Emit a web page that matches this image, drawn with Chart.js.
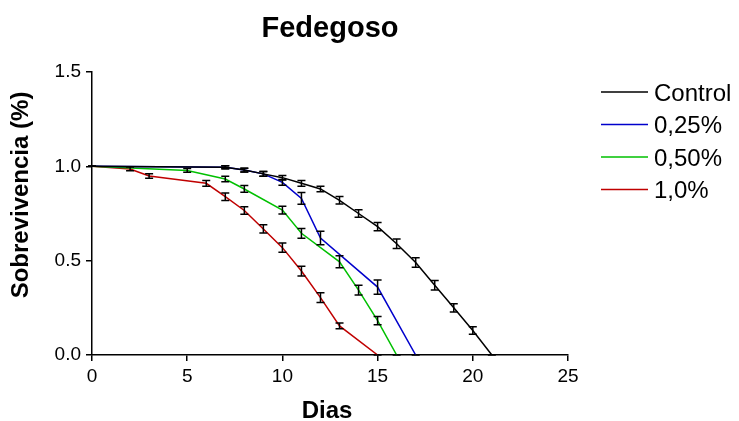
<!DOCTYPE html>
<html>
<head>
<meta charset="utf-8">
<script src="https://cdn.jsdelivr.net/npm/chart.js@4.4.0/dist/chart.umd.min.js"></script>
<style>
  body { margin: 0; background: #fff; }
  canvas { display: block; }
</style>
</head>
<body>
<canvas id="chart" width="739" height="421"></canvas>
<script>
const seriesNames = ['Control', '0,25%', '0,50%', '1,0%'];
const seriesColors = ['#000000', '#0000cc', '#00c000', '#c00000'];

const controlDays = [0, 7, 8, 9, 10, 11, 12, 13, 14, 15, 16, 17, 18, 19, 20, 21];
const controlValues = [1.0, 0.995, 0.98, 0.96, 0.94, 0.91, 0.88, 0.82, 0.75, 0.68, 0.59, 0.49, 0.37, 0.25, 0.13, 0];
const controlErrors = [0, 0.008, 0.01, 0.012, 0.012, 0.015, 0.015, 0.02, 0.02, 0.022, 0.025, 0.025, 0.025, 0.022, 0.02, 0];

const lowDays = [0, 7, 8, 9, 10, 11, 12, 15, 17];
const lowValues = [1.0, 0.995, 0.98, 0.96, 0.915, 0.83, 0.62, 0.36, 0];
const lowErrors = [0, 0.008, 0.01, 0.012, 0.015, 0.031, 0.036, 0.038, 0];

const midDays = [0, 5, 7, 8, 10, 11, 13, 14, 15, 16];
const midValues = [1.0, 0.978, 0.933, 0.88, 0.768, 0.645, 0.494, 0.344, 0.182, 0];
const midErrors = [0, 0.01, 0.015, 0.018, 0.02, 0.026, 0.032, 0.026, 0.022, 0];

const highDays = [0, 2, 3, 6, 7, 8, 9, 10, 11, 12, 13, 15];
const highValues = [1.0, 0.986, 0.949, 0.91, 0.839, 0.766, 0.668, 0.569, 0.445, 0.304, 0.154, 0];
const highErrors = [0, 0.01, 0.012, 0.015, 0.02, 0.02, 0.022, 0.024, 0.026, 0.026, 0.015, 0];

const xTicks = [0, 5, 10, 15, 20, 25];
const yTicks = [0, 0.5, 1.0, 1.5];

const FONT = '"Liberation Sans", Arial, sans-serif';

const allDays = [controlDays, lowDays, midDays, highDays];
const allValues = [controlValues, lowValues, midValues, highValues];
const allErrors = [controlErrors, lowErrors, midErrors, highErrors];

const datasets = seriesNames.map((name, i) => ({
  label: name,
  data: allDays[i].map((d, j) => ({ x: d, y: allValues[i][j] })),
  errors: allErrors[i],
  borderColor: seriesColors[i],
  backgroundColor: seriesColors[i],
  borderWidth: 1.5,
  pointRadius: 0,
  tension: 0
}));

// vertical error bars with caps
const errorBars = {
  id: 'errorBars',
  afterDatasetsDraw(chart) {
    const ctx = chart.ctx;
    const ys = chart.scales.y;
    ctx.save();
    ctx.strokeStyle = '#000';
    ctx.lineWidth = 1.5;
    chart.data.datasets.forEach((ds, i) => {
      const meta = chart.getDatasetMeta(i);
      meta.data.forEach((pt, j) => {
        const v = ds.data[j].y;
        const e = ds.errors[j];
        const top = ys.getPixelForValue(v + e);
        const bot = ys.getPixelForValue(v - e);
        ctx.beginPath();
        ctx.moveTo(pt.x, top); ctx.lineTo(pt.x, bot);
        ctx.moveTo(pt.x - 4, top); ctx.lineTo(pt.x + 4, top);
        ctx.moveTo(pt.x - 4, bot); ctx.lineTo(pt.x + 4, bot);
        ctx.stroke();
      });
    });
    ctx.restore();
  }
};

// title, axis titles and legend
const decorations = {
  id: 'decorations',
  afterDraw(chart) {
    const ctx = chart.ctx;
    const area = chart.chartArea;
    const cx = (area.left + area.right) / 2;
    ctx.save();
    ctx.fillStyle = '#000';
    ctx.textAlign = 'center';
    ctx.textBaseline = 'alphabetic';
    ctx.font = 'bold 29px ' + FONT;
    ctx.fillText('Fedegoso', cx, 37);
    ctx.font = 'bold 24px ' + FONT;
    ctx.fillText('Dias', cx - 3, 418);
    ctx.save();
    ctx.translate(28, 195);
    ctx.rotate(-Math.PI / 2);
    ctx.fillText('Sobrevivencia (%)', 0, 0);
    ctx.restore();

    ctx.textAlign = 'left';
    ctx.font = '24px ' + FONT;
    chart.data.datasets.forEach((ds, i) => {
      const y = 92 + i * 32.5;
      ctx.strokeStyle = ds.borderColor;
      ctx.lineWidth = 1.5;
      ctx.beginPath();
      ctx.moveTo(601, y);
      ctx.lineTo(648, y);
      ctx.stroke();
      ctx.fillText(ds.label, 654, y + 8.5);
    });
    ctx.restore();
  }
};

const axisStyle = {
  grid: { drawOnChartArea: false, drawTicks: true, tickLength: 6, color: '#000', lineWidth: 1.5 },
  border: { color: '#000', width: 1.5 }
};

new Chart(document.getElementById('chart'), {
  type: 'line',
  data: { datasets },
  options: {
    responsive: false,
    animation: false,
    layout: { padding: { left: 0, right: 171, top: 72, bottom: 0 } },
    plugins: {
      legend: { display: false },
      title: { display: false },
      tooltip: { enabled: false }
    },
    scales: {
      x: {
        type: 'linear',
        min: 0,
        max: 25,
        afterBuildTicks: s => { s.ticks = xTicks.map(v => ({ value: v })); },
        ticks: { font: { family: FONT, size: 19 }, color: '#000', padding: 4, maxRotation: 0 },
        afterFit: s => { s.height = 66; },
        ...axisStyle
      },
      y: {
        type: 'linear',
        min: 0,
        max: 1.5,
        afterBuildTicks: s => { s.ticks = yTicks.map(v => ({ value: v })); },
        ticks: { font: { family: FONT, size: 19 }, color: '#000', padding: 5, callback: v => v.toFixed(1) },
        afterFit: s => { s.width = 92; },
        ...axisStyle
      }
    }
  },
  plugins: [errorBars, decorations]
});
</script>
</body>
</html>
